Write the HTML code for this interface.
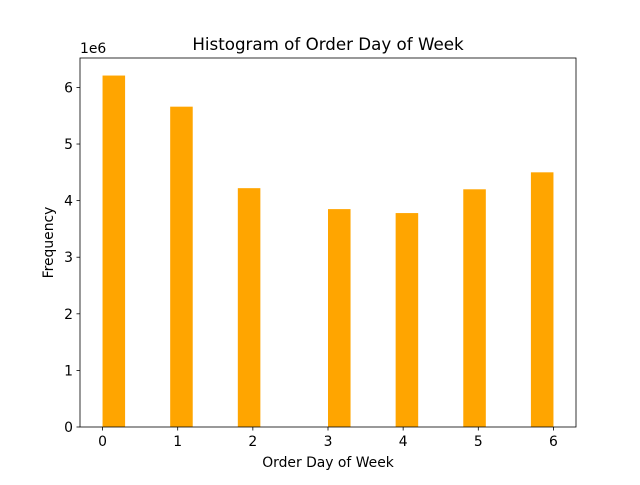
<!DOCTYPE html>
<html><head><meta charset="utf-8"><style>
body{margin:0;background:#fff;}
svg text{font-family:"DejaVu Sans","Liberation Sans",sans-serif;fill:#000;}
</style></head><body>
<svg id="chart" width="640" height="480" xmlns="http://www.w3.org/2000/svg">
<rect width="640" height="480" fill="#fff"/>
<g id="bars"></g>
<g id="xticks"></g>
<g id="yticks"></g>
<rect x="80" y="58" width="496" height="369" fill="none" stroke="#000" stroke-width="0.8"/>
<text x="328" y="50" font-size="16.7" text-anchor="middle">Histogram of Order Day of Week</text>
<text x="328" y="467" font-size="13.9" text-anchor="middle">Order Day of Week</text>
<text transform="translate(53,242.5) rotate(-90)" font-size="13.9" text-anchor="middle">Frequency</text>
<text x="80" y="53" font-size="13.9">1e6</text>
</svg>
<script>
const binStarts = [0, 0.9, 1.8, 3.0, 3.9, 4.8, 5.7];
const binWidth = 0.3;
const counts = [6.21, 5.66, 4.22, 3.85, 3.78, 4.20, 4.50]; // in millions
const xTickLabels = ["0","1","2","3","4","5","6"];
const yTickLabels = ["0","1","2","3","4","5","6"];

const L=80,R=576,T=58,B=427;
const xMin=-0.3,xMax=6.3,yMin=0,yMax=6.52;
const xs=v=>L+(v-xMin)/(xMax-xMin)*(R-L);
const ys=v=>B-(v-yMin)/(yMax-yMin)*(B-T);
const NS="http://www.w3.org/2000/svg";
const bars=document.getElementById('bars');
binStarts.forEach((s,i)=>{
  const r=document.createElementNS(NS,'rect');
  r.setAttribute('x',xs(s));r.setAttribute('width',xs(s+binWidth)-xs(s));
  r.setAttribute('y',ys(counts[i]));r.setAttribute('height',ys(0)-ys(counts[i]));
  r.setAttribute('fill','#ffa500');
  
  
  bars.appendChild(r);
});
const xg=document.getElementById('xticks');
xTickLabels.forEach(t=>{
  const x=xs(parseFloat(t));
  const l=document.createElementNS(NS,'line');
  l.setAttribute('x1',x);l.setAttribute('x2',x);l.setAttribute('y1',B);l.setAttribute('y2',B+3.5);
  l.setAttribute('stroke','#000');l.setAttribute('stroke-width','0.8');
  
  
  xg.appendChild(l);
  const tx=document.createElementNS(NS,'text');
  tx.setAttribute('x',x);tx.setAttribute('y',B+19);tx.setAttribute('font-size','13.9');tx.setAttribute('text-anchor','middle');
  tx.textContent=t;
  
  
  xg.appendChild(tx);
});
const yg=document.getElementById('yticks');
yTickLabels.forEach(t=>{
  const y=ys(parseFloat(t));
  const l=document.createElementNS(NS,'line');
  l.setAttribute('x1',L-3.5);l.setAttribute('x2',L);l.setAttribute('y1',y);l.setAttribute('y2',y);
  l.setAttribute('stroke','#000');l.setAttribute('stroke-width','0.8');
  
  
  yg.appendChild(l);
  const tx=document.createElementNS(NS,'text');
  tx.setAttribute('x',L-7);tx.setAttribute('y',y+5);tx.setAttribute('font-size','13.9');tx.setAttribute('text-anchor','end');
  tx.textContent=t;
  
  
  yg.appendChild(tx);
});
</script>
</body></html>
